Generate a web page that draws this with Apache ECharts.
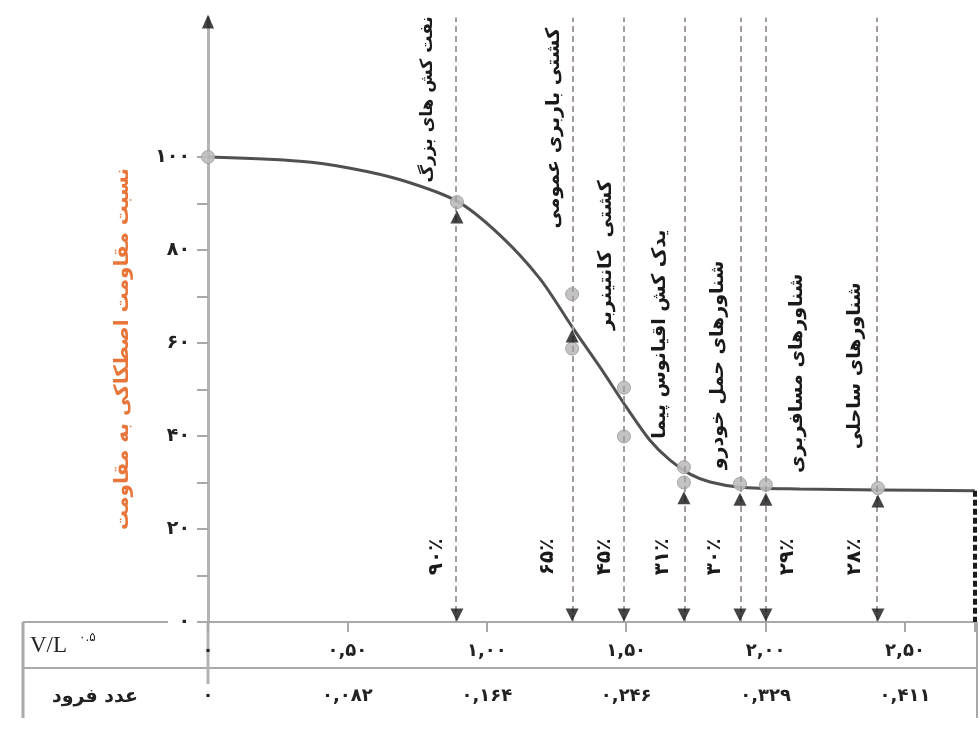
<!DOCTYPE html>
<html><head><meta charset="utf-8">
<script src="https://cdn.jsdelivr.net/npm/echarts@6/dist/echarts.min.js"></script>
<style>html,body{margin:0;padding:0;background:#fff}#c{width:980px;height:730px}</style>
</head><body><div id="c"></div>
<script>
// ---------------- DATA ----------------
const vlTicks = [0, 0.5, 1.0, 1.5, 2.0, 2.5];
const vlLabels = ['۰', '۰,۵۰', '۱,۰۰', '۱,۵۰', '۲,۰۰', '۲,۵۰'];
const froudeLabels = ['۰', '۰,۰۸۲', '۰,۱۶۴', '۰,۲۴۶', '۰,۳۲۹', '۰,۴۱۱'];
const yTickValues = [0, 20, 40, 60, 80, 100];
const yTickLabels = ['۰', '۲۰', '۴۰', '۶۰', '۸۰', '۱۰۰'];

const curveX = [0, 0.33, 0.51, 0.69, 0.893, 1.047, 1.191, 1.309, 1.406, 1.503, 1.585, 1.657, 1.729, 1.801, 1.908, 2.123, 2.403, 2.75];
const curveY = [100, 99.1, 97.6, 95.1, 90.5, 83.2, 73.8, 63.2, 54.8, 46.0, 39.1, 34.8, 31.8, 30.1, 29.0, 28.6, 28.4, 28.2];

const measuredX = [0, 0.893, 1.306, 1.306, 1.492, 1.492, 1.707, 1.707, 1.908, 2.001, 2.403];
const measuredY = [100, 90.3, 70.5, 58.8, 50.4, 39.9, 33.3, 30.0, 29.7, 29.5, 28.8];

const shipX = [0.893, 1.306, 1.492, 1.707, 1.908, 2.001, 2.403];
const shipNames = ['نفت کش های بزرگ', 'کشتی باربری عمومی', 'کشتی  کانتینربر', 'یدک کش اقیانوس پیما', 'شناورهای حمل خودرو', 'شناورهای مسافربری', 'شناورهای ساحلی'];
const shipPercent = ['۹۰٪', '۶۵٪', '۴۵٪', '۳۱٪', '۳۰٪', '۲۹٪', '۲۸٪'];

const markerX = [0.893, 1.306, 1.707, 1.908, 2.001, 2.403];
const markerY = [87.1, 61.5, 26.7, 26.4, 26.4, 26.0];

const xMax = 2.75;
const yTop = 130;
const yTitle = 'نسبت مقاومت اصطکاکی به مقاومت';
const rowTitle = 'عدد فرود';

// ---------------- LAYOUT (positions / styles) ----------------
const LAYOUT = {
  nameY: [112.4, 106.2, 78.9, 61.9, 55.3, 53.5, 55.1],
  nameDx: [-29, -18, -18, -24, -22, 31, -23],
  nameSize: [17, 19, 19, 19, 19, 19, 19],
  pctY: 14.0,
  pctDx: [-20, -24, -19, -21, -25, 22, -23]
};
const FA = '"DejaVu Sans", sans-serif';

function idxOf(v, step, n) {
  const i = Math.round(v / step);
  if (Math.abs(v - i * step) > 1e-6 || i < 0 || i >= n) return -1;
  return i;
}

const chart = echarts.init(document.getElementById('c'), null, {renderer: 'canvas'});
const gridW = 766.7;
const option = {
  backgroundColor: '#ffffff',
  animation: false,
  grid: [
    {left: 208, top: 17.5, width: gridW, height: 604.5},
    {left: 208, top: 157, width: gridW, height: 465}
  ],
  xAxis: [
    {gridIndex: 0, type: 'value', min: 0, max: xMax, interval: 0.5,
      axisLine: {lineStyle: {color: '#a9a9a9', width: 2}},
      axisTick: {show: true, length: 10, lineStyle: {color: '#a9a9a9', width: 2}},
      splitLine: {show: false},
      axisLabel: {margin: 20, color: '#222', fontSize: 18, fontWeight: 'bold', fontFamily: FA,
        formatter: v => { const i = idxOf(v, 0.5, vlLabels.length); return i < 0 ? '' : vlLabels[i]; }}},
    {gridIndex: 0, type: 'value', min: 0, max: xMax, interval: 0.5, position: 'bottom', offset: 46,
      axisLine: {show: false}, axisTick: {show: false}, splitLine: {show: false},
      axisLabel: {margin: 19, color: '#222', fontSize: 18, fontWeight: 'bold', fontFamily: FA,
        formatter: v => { const i = idxOf(v, 0.5, froudeLabels.length); return i < 0 ? '' : froudeLabels[i]; }}},
    {gridIndex: 1, type: 'value', min: 0, max: xMax, show: false}
  ],
  yAxis: [
    {gridIndex: 0, type: 'value', min: 0, max: yTop,
      axisLine: {show: true, lineStyle: {color: '#b3b3b3', width: 3}},
      axisTick: {show: false}, axisLabel: {show: false}, splitLine: {show: false}},
    {gridIndex: 1, type: 'value', min: 0, max: 100, interval: 10,
      axisLine: {show: false},
      axisTick: {show: true, length: 11, lineStyle: {color: '#a8a8a8', width: 2}},
      splitLine: {show: false},
      axisLabel: {margin: 18, color: '#222', fontSize: 19, fontWeight: 'bold', fontFamily: FA,
        formatter: v => { const i = yTickValues.indexOf(v); return i < 0 ? '' : yTickLabels[i]; }}}
  ],
  series: [
    {type: 'line', xAxisIndex: 0, yAxisIndex: 0, z: 3,
      data: curveX.map((x, i) => [x, curveY[i]]),
      smooth: 0.3, showSymbol: false, symbol: 'none',
      lineStyle: {color: '#505050', width: 3},
      markLine: {silent: true, symbol: 'none', label: {show: false},
        lineStyle: {type: [6, 4], color: '#a69e9a', width: 2},
        data: shipX.map(x => ({xAxis: x})).concat([[
          {coord: [xMax, curveY[curveY.length - 1]], lineStyle: {color: '#1a1a1a', width: 4, type: [6, 3]}},
          {coord: [xMax, 0]}
        ]])}},
    {type: 'scatter', xAxisIndex: 0, yAxisIndex: 0, z: 4,
      data: measuredX.map((x, i) => [x, measuredY[i]]),
      symbol: 'circle', symbolSize: 13,
      itemStyle: {color: '#bdbdbd', borderColor: '#9e9e9e', borderWidth: 1, opacity: 0.9}},
    {type: 'scatter', xAxisIndex: 0, yAxisIndex: 0, z: 5,
      data: markerX.map((x, i) => [x, markerY[i]]),
      symbol: 'triangle', symbolSize: 13, itemStyle: {color: '#151515'}},
    {type: 'scatter', xAxisIndex: 0, yAxisIndex: 0, z: 5,
      data: shipX.map(x => [x, 0]),
      symbol: 'triangle', symbolRotate: 180, symbolSize: 13, symbolOffset: [0, -7],
      itemStyle: {color: '#151515'}},
    {type: 'scatter', xAxisIndex: 0, yAxisIndex: 0, z: 5,
      data: [[0, yTop]], symbol: 'triangle', symbolSize: [12, 14], symbolOffset: [0, 4],
      itemStyle: {color: '#151515'}},
    {type: 'custom', xAxisIndex: 0, yAxisIndex: 0, z: 6,
      data: shipX.map((x, i) => [x, i]),
      renderItem: (params, api) => {
        const i = params.dataIndex;
        const x = api.value(0);
        const c1 = api.coord([x, LAYOUT.nameY[i]]);
        const c2 = api.coord([x, LAYOUT.pctY]);
        return {type: 'group', children: [
          {type: 'text', x: c1[0] + LAYOUT.nameDx[i], y: c1[1], rotation: Math.PI / 2,
            style: {text: shipNames[i], align: 'center', verticalAlign: 'middle',
              fontSize: LAYOUT.nameSize[i], fontWeight: 'bold', fontFamily: FA, fill: '#1a1a1a'}},
          {type: 'text', x: c2[0] + LAYOUT.pctDx[i], y: c2[1], rotation: Math.PI / 2,
            style: {text: shipPercent[i], align: 'center', verticalAlign: 'middle',
              fontSize: 20, fontWeight: 'bold', fontFamily: FA, fill: '#1a1a1a'}}
        ]};
      }}
  ],
  graphic: [
    {type: 'text', x: 123, y: 349, rotation: Math.PI / 2, z: 10,
      style: {text: yTitle, align: 'center', verticalAlign: 'middle', fontSize: 20, fontWeight: 'bold', fontFamily: FA, fill: '#E8763A'}},
    {type: 'line', shape: {x1: 23, y1: 622, x2: 168, y2: 622}, style: {stroke: '#a9a9a9', lineWidth: 2}},
    {type: 'line', shape: {x1: 23, y1: 668, x2: 977, y2: 668}, style: {stroke: '#a9a9a9', lineWidth: 2}},
    {type: 'line', shape: {x1: 23, y1: 622, x2: 23, y2: 718}, style: {stroke: '#a9a9a9', lineWidth: 3}},
    {type: 'line', shape: {x1: 977, y1: 622, x2: 977, y2: 718}, style: {stroke: '#a9a9a9', lineWidth: 2}},
    {type: 'line', shape: {x1: 208, y1: 622, x2: 208, y2: 684}, style: {stroke: '#b3b3b3', lineWidth: 3}},
    {type: 'text', x: 30, y: 646, style: {text: 'V/L', align: 'left', verticalAlign: 'middle', fontSize: 23, fontFamily: '"Liberation Serif", serif', fill: '#222'}},
    {type: 'text', x: 79, y: 638, style: {text: '۰.۵', align: 'left', verticalAlign: 'middle', fontSize: 12, fontFamily: FA, fill: '#222'}},
    {type: 'text', x: 95, y: 697, style: {text: rowTitle, align: 'center', verticalAlign: 'middle', fontSize: 19, fontWeight: 'bold', fontFamily: FA, fill: '#222'}}
  ]
};
chart.setOption(option);
</script></body></html>
